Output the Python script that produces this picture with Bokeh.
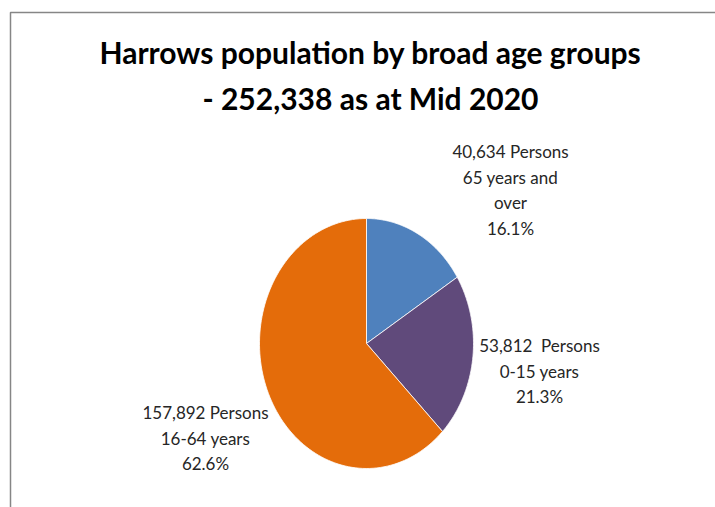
import numpy as np
from bokeh.plotting import figure
from bokeh.models import Range1d
from bokeh.core.properties import value
from bokeh.embed import file_html
from bokeh.resources import INLINE

# ---- data ----
groups = ["65 years and over", "0-15 years", "16-64 years"]
persons = [40634, 53812, 157892]
colors = ["#4F81BD", "#604A7B", "#E46C0A"]
title_lines = ["Harrows population by broad age groups", "- 252,338 as at Mid 2020"]
label_lines = [
    ["40,634 Persons", "65 years and", "over", "16.1%"],
    ["53,812\u00a0 Persons", "0-15 years", "21.3%"],
    ["157,892 Persons", "16-64 years", "62.6%"],
]

# ---- layout ----
W, H = 715, 507
FONT = "Lato"
cx, cy, rx, ry = 366, 343, 107, 125
label_pos = [(510, 151), (539, 345), (205, 412)]
line_gap = 25.5

p = figure(width=W, height=H, output_backend="svg", toolbar_location=None,
           x_range=Range1d(0, W), y_range=Range1d(H, 0),
           min_border=0, outline_line_color=None)
p.axis.visible = False
p.grid.visible = False
p.background_fill_color = "white"
p.border_fill_color = "white"

# chart area frame (left and top edges visible)
p.line(x=[10, 10, W + 5], y=[H + 5, 12, 12], line_color="#868686", line_width=1.5)

# pie (elliptical, clockwise from 12 o'clock)
total = sum(persons)
fr = np.cumsum([0] + persons) / total
xs, ys = [], []
for i in range(len(persons)):
    t = np.linspace(fr[i], fr[i + 1], 120)
    ang = np.pi / 2 - 2 * np.pi * t
    xs.append([cx] + list(cx + rx * np.cos(ang)) + [cx])
    ys.append([cy] + list(cy - ry * np.sin(ang)) + [cy])
p.patches(xs=xs, ys=ys, fill_color=colors, line_color="white", line_width=0.8)

# title
p.text(x=[370, 370], y=[51, 97], text=title_lines, text_align="center",
       text_baseline="middle", text_font=value(FONT), text_font_style="bold",
       text_font_size="30px", text_color="black")

# data labels
lx, ly, lt = [], [], []
for (x0, y0), lines in zip(label_pos, label_lines):
    for k, s in enumerate(lines):
        lx.append(x0)
        ly.append(y0 + k * line_gap)
        lt.append(s)
p.text(x=lx, y=ly, text=lt, text_align="center", text_baseline="middle",
       text_font=value(FONT), text_font_size="17px", text_color="#262626")

open("out.html", "w").write(file_html(p, INLINE))
